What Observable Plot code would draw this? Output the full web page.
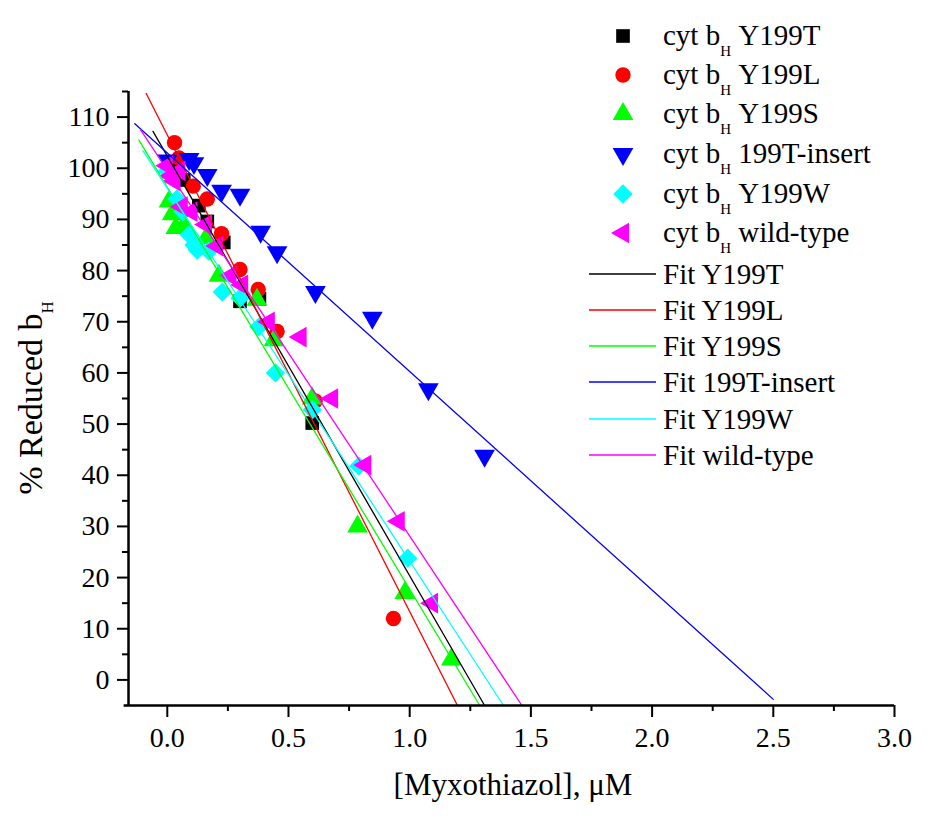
<!DOCTYPE html>
<html>
<head>
<meta charset="utf-8">
<script src="https://cdn.jsdelivr.net/npm/d3@7"></script>
<script src="https://cdn.jsdelivr.net/npm/@observablehq/plot@0.6"></script>
<style>
  html, body { margin: 0; padding: 0; background: #fff; }
  #chart { position: relative; width: 932px; height: 830px; }
</style>
</head>
<body>
<div id="chart"></div>
<script>
// ---- data ----
const seriesNames = ["Y199T", "Y199L", "Y199S", "199T-insert", "Y199W", "wild-type"];
const seriesColors = ["#000000", "#ff0000", "#00ff00", "#0000ff", "#00ffff", "#ff00ff"];

const y199T = [[0.04,101],[0.068,97.7],[0.13,92.7],[0.165,89.6],[0.233,85.5],[0.30,74],[0.38,74.5],[0.598,50.2]];
const y199L = [[0.03,105],[0.048,102],[0.107,96.5],[0.165,94],[0.224,87.2],[0.30,80.2],[0.375,76.3],[0.453,68.1],[0.61,54.5],[0.933,12]];
const y199S = [[0.007,93.5],[0.02,91],[0.035,88.3],[0.068,88.8],[0.16,86.3],[0.213,79],[0.37,74.3],[0.44,66.4],[0.598,55],[0.785,30],[0.98,17],[1.172,4]];
const insert199T = [[0.0,101.5],[0.09,101.8],[0.11,101],[0.165,98.7],[0.224,95.6],[0.30,94.8],[0.385,87.6],[0.453,83.6],[0.611,75.8],[0.846,70.8],[1.077,56.8],[1.309,43.8]];
const y199W = [[0.0,99.5],[0.04,94],[0.065,91.5],[0.09,87],[0.11,85],[0.124,84],[0.171,83.8],[0.227,75.8],[0.30,74.6],[0.378,69],[0.446,60],[0.598,52.8],[0.79,41.8],[0.992,23.8]];
const wildType = [[0.0,100.5],[0.015,98.5],[0.03,97.5],[0.05,99.5],[0.06,92.5],[0.10,91.5],[0.16,89],[0.206,84.8],[0.261,79],[0.309,77.2],[0.419,70],[0.55,67],[0.68,55],[0.817,42],[0.955,31],[1.092,15]];

// fit line endpoints [x0, y0, x1, y1]
const fitY199T = [-0.059, 107.2, 1.309, -5];
const fitY199L = [-0.087, 114.6, 1.197, -5];
const fitY199S = [-0.117, 105.5, 1.289, -5];
const fitInsert = [-0.134, 108.7, 2.50, -3.8];
const fitY199W = [-0.10, 103.4, 1.387, -5];
const fitWild = [-0.11, 107.5, 1.463, -5];

const xMajorTicks = [0, 0.5, 1.0, 1.5, 2.0, 2.5, 3.0];
const xMinorTicks = [0.25, 0.75, 1.25, 1.75, 2.25, 2.75];
const yMajorTicks = [0, 10, 20, 30, 40, 50, 60, 70, 80, 90, 100, 110];
const yMinorTicks = [5, 15, 25, 35, 45, 55, 65, 75, 85, 95, 105, 115];

// ---- build ----
const seriesData = [y199T, y199L, y199S, insert199T, y199W, wildType];
const fits = [fitY199T, fitY199L, fitY199S, fitInsert, fitY199W, fitWild];
const symbolSpec = [
  {symbol: "square", rotate: 0},
  {symbol: "circle", rotate: 0},
  {symbol: "triangle", rotate: 0},
  {symbol: "triangle", rotate: 180},
  {symbol: "square", rotate: 45},
  {symbol: "triangle", rotate: -90}
];
const R = 7.7;

const points = [];
seriesData.forEach((arr, i) => arr.forEach(([x, y]) => points.push({x, y, s: i})));
const fitRows = [];
fits.forEach((f, i) => { fitRows.push({x: f[0], y: f[1], s: i}); fitRows.push({x: f[2], y: f[3], s: i}); });

const FONT = "'Liberation Serif', 'Times New Roman', serif";

const marks = [];
seriesData.forEach((arr, i) => {
  marks.push(Plot.dot(points.filter(d => d.s === i), {
    x: "x", y: "y", r: R, symbol: symbolSpec[i].symbol, rotate: symbolSpec[i].rotate,
    fill: seriesColors[i], stroke: "none"
  }));
});
fits.forEach((f, i) => {
  marks.push(Plot.line(fitRows.filter(d => d.s === i), {x: "x", y: "y", stroke: seriesColors[i], strokeWidth: 1.3}));
});
marks.push(
  Plot.ruleX([-0.16], {y1: -5, y2: 115, stroke: "#000", strokeWidth: 2.5}),
  Plot.ruleY([-5], {x1: -0.178, x2: 3.0, stroke: "#000", strokeWidth: 2.5}),
  Plot.axisX(xMajorTicks, {anchor: "bottom", label: null, tickSize: 12, tickPadding: 10, strokeWidth: 2, tickFormat: d => d.toFixed(1)}),
  Plot.axisX(xMinorTicks, {anchor: "bottom", label: null, tickSize: 6, strokeWidth: 2, tickFormat: () => ""}),
  Plot.axisY(yMajorTicks, {anchor: "left", label: null, tickSize: 11, tickPadding: 8, strokeWidth: 2, tickFormat: d => String(d)}),
  Plot.axisY(yMinorTicks, {anchor: "left", label: null, tickSize: 6, strokeWidth: 2, tickFormat: () => ""})
);

const plot = Plot.plot({
  width: 932, height: 830,
  marginLeft: 128, marginRight: 38, marginTop: 91, marginBottom: 125,
  x: {domain: [-0.16, 3.0], axis: null, label: null},
  y: {domain: [-5, 115], axis: null, label: null},
  style: {fontFamily: FONT, fontSize: "28px", color: "#000", background: "#fff", overflow: "visible"},
  marks
});
document.getElementById("chart").appendChild(plot);

// ---- axis titles and legend (text with subscripts) ----
const svg = d3.select(plot);

const yl = svg.append("text")
  .attr("transform", "translate(42,398) rotate(-90)")
  .attr("text-anchor", "middle")
  .style("font-family", FONT).style("font-size", "34px").attr("fill", "#000");
yl.append("tspan").text("% Reduced b");
yl.append("tspan").attr("dy", 11).style("font-size", "17px").text("H");

svg.append("text")
  .attr("x", 513).attr("y", 795)
  .attr("text-anchor", "middle")
  .style("font-family", FONT).style("font-size", "31px").attr("fill", "#000")
  .text("[Myxothiazol], \u03bcM");

const lg = svg.append("g").attr("text-anchor", "start");
const symX = 623, textX = 663;
const symRows = [36, 75, 114, 154, 194, 233];
const lineRows = [274, 310, 346, 382, 419, 455];
const d3sym = {square: d3.symbolSquare, circle: d3.symbolCircle, triangle: d3.symbolTriangle};
seriesNames.forEach((name, i) => {
  const cy = symRows[i];
  const spec = symbolSpec[i];
  lg.append("path")
    .attr("d", d3.symbol(d3sym[spec.symbol], Math.PI * R * R)())
    .attr("transform", `translate(${symX},${cy}) rotate(${spec.rotate})`)
    .attr("fill", seriesColors[i]);
  const t = lg.append("text").attr("x", textX).attr("y", cy + 9).attr("text-anchor", "start")
    .style("font-family", FONT).style("font-size", "29px").attr("fill", "#000");
  t.append("tspan").text("cyt b");
  t.append("tspan").attr("dy", 11).style("font-size", "15px").text("H");
  t.append("tspan").attr("dy", -11).text("\u00a0" + name);

  const ly = lineRows[i];
  lg.append("line").attr("x1", 589).attr("x2", 656).attr("y1", ly).attr("y2", ly)
    .attr("stroke", seriesColors[i]).attr("stroke-width", 1.3);
  lg.append("text").attr("x", textX).attr("y", ly + 10).attr("text-anchor", "start")
    .style("font-family", FONT).style("font-size", "29px").attr("fill", "#000")
    .text("Fit " + name);
});
</script>
</body>
</html>
